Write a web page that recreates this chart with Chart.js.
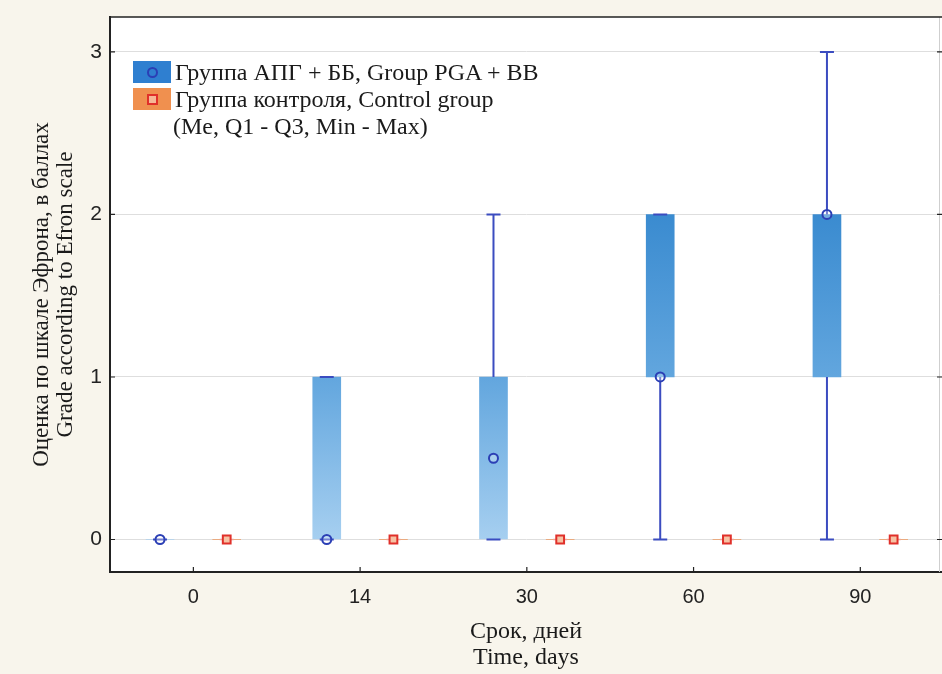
<!DOCTYPE html>
<html><head><meta charset="utf-8">
<script src="https://cdn.jsdelivr.net/npm/chart.js@4"></script>
<style>
html,body{margin:0;padding:0;background:#f8f5ec;}
#wrap{position:relative;width:942px;height:674px;}
#legend{position:absolute;left:133px;top:58px;font-family:"Liberation Serif","Times New Roman",serif;font-size:24px;color:#1a1a1a;line-height:28px;}
.row{display:flex;align-items:center;height:27px;}
.sw{width:38px;height:22px;margin-right:4px;position:relative;}
.sw i{position:absolute;left:14px;top:6px;width:7px;height:7px;border:2px solid;}
</style></head><body>
<div id="wrap"><canvas id="c" width="942" height="674"></canvas>
<div id="legend">
 <div class="row"><div class="sw" style="background:#2f7fd0"><i style="border-color:#2b3fb5;border-radius:50%"></i></div>Группа АПГ + ББ, Group PGA + BB</div>
 <div class="row"><div class="sw" style="background:#f0904f"><i style="border-color:#e0302a;background:#f6b796"></i></div>Группа контроля, Control group</div>
 <div class="row" style="padding-left:40px">(Me, Q1 - Q3, Min - Max)</div>
</div></div>
<script>
const categories = ["0","14","30","60","90"];
const yTicks = [0,1,2,3];
// Group APG + BB
const pgaMedian = [0,0,0.5,1,2];
const pgaQ1 = [0,0,0,1,1];
const pgaQ3 = [0,1,1,2,2];
const pgaMin = [0,0,0,0,0];
const pgaMax = [0,1,2,2,3];
// Control group
const ctrlMedian = [0,0,0,0,0];
const ctrlQ1 = [0,0,0,0,0];
const ctrlQ3 = [0,0,0,0,0];
const ctrlMin = [0,0,0,0,0];
const ctrlMax = [0,0,0,0,0];

const OFF = 0.2;

const framePlugin = {
  id:'frame',
  beforeDraw(chart){
    const {ctx, chartArea:a} = chart;
    ctx.save(); ctx.fillStyle='#ffffff';
    ctx.fillRect(a.left, a.top, a.right-a.left, a.bottom-a.top);
    ctx.restore();
  },
  afterDatasetDraw(chart, args){
    if(args.index!==1) return;
    const {ctx} = chart;
    const x = chart.scales.x, y = chart.scales.y;
    const drawGroup = (mins,maxs,q1,q3,off,color,w)=>{
      ctx.save(); ctx.strokeStyle=color; ctx.lineWidth=w;
      for(let i=0;i<categories.length;i++){
        const px = x.getPixelForValue(i+off);
        const pMin=y.getPixelForValue(mins[i]), pMax=y.getPixelForValue(maxs[i]);
        const pQ1=y.getPixelForValue(q1[i]), pQ3=y.getPixelForValue(q3[i]);
        ctx.beginPath();
        if(pMin>pQ1){ctx.moveTo(px,pMin);ctx.lineTo(px,pQ1);}
        if(pMax<pQ3){ctx.moveTo(px,pQ3);ctx.lineTo(px,pMax);}
        ctx.moveTo(px-7,pMin);ctx.lineTo(px+7,pMin);
        ctx.moveTo(px-7,pMax);ctx.lineTo(px+7,pMax);
        ctx.stroke();
      }
      ctx.restore();
    };
    drawGroup(pgaMin,pgaMax,pgaQ1,pgaQ3,-OFF,'#3b4cc0',2);
    drawGroup(ctrlMin,ctrlMax,ctrlQ1,ctrlQ3,OFF,'#f0a49c',1.5);
  },
  afterDraw(chart){
    const {ctx, chartArea:a} = chart;
    const x = chart.scales.x, y = chart.scales.y;
    ctx.save();
    ctx.strokeStyle='#cfcfcf'; ctx.lineWidth=1;
    ctx.beginPath(); ctx.moveTo(939.5,a.top); ctx.lineTo(939.5,a.bottom); ctx.stroke();
    ctx.strokeStyle='#222'; ctx.lineWidth=1.5;
    ctx.beginPath(); ctx.moveTo(a.left-1,a.top); ctx.lineTo(a.right,a.top); ctx.stroke();
    ctx.lineWidth=1.2; ctx.beginPath();
    for(let i=0;i<categories.length;i++){
      const px=x.getPixelForValue(i); ctx.moveTo(px,a.bottom); ctx.lineTo(px,a.bottom-5);
    }
    yTicks.forEach(v=>{const py=y.getPixelForValue(v);
      ctx.moveTo(a.left,py); ctx.lineTo(a.left+5,py);
      ctx.moveTo(a.right,py); ctx.lineTo(a.right-5,py);});
    ctx.stroke(); ctx.restore();
  }
};

new Chart(document.getElementById('c'), {
  type:'bar',
  data:{
    datasets:[
      {label:'Группа АПГ + ББ, Group PGA + BB', data:pgaQ1.map((v,i)=>({x:i-OFF,y:[v,pgaQ3[i]]})), order:3,
       backgroundColor:(c)=>{const a=c.chart.chartArea; if(!a) return '#5aa0dc';
         const y=c.chart.scales.y; const g=c.chart.ctx.createLinearGradient(0,y.getPixelForValue(2),0,y.getPixelForValue(0));
         g.addColorStop(0,'#3a8bd0'); g.addColorStop(0.5,'#62a6de'); g.addColorStop(1,'#a6cff0'); return g;},
       borderWidth:0, grouped:false, barThickness:28},
      {label:'Группа контроля, Control group', data:ctrlQ1.map((v,i)=>({x:i+OFF,y:[v,ctrlQ3[i]]})), order:2,
       backgroundColor:'#f0904f', borderWidth:0, grouped:false, barThickness:28},
      {type:'scatter', label:'Me PGA', order:1,
       data:pgaMedian.map((v,i)=>({x:i-OFF,y:v})), pointStyle:'circle', pointRadius:4.5,
       borderColor:'#2b3fb5', backgroundColor:'rgba(255,255,255,0.3)', borderWidth:2},
      {type:'scatter', label:'Me control', order:0,
       data:ctrlMedian.map((v,i)=>({x:i+OFF,y:v})), pointStyle:'rect', pointRadius:5.5,
       borderColor:'#e0302a', backgroundColor:'#f6c2a4', borderWidth:2}
    ]
  },
  options:{
    responsive:false, animation:false,
    layout:{autoPadding:false, padding:{top:17,right:0,left:0,bottom:0}},
    plugins:{legend:{display:false}, tooltip:{enabled:false}},
    scales:{
      x:{type:'linear', min:-0.5, max:4.49, offset:false,
        afterBuildTicks(s){s.ticks=categories.map((c,i)=>({value:i}));},
        grid:{display:false, drawTicks:false},
        border:{color:'#222', width:2},
        ticks:{padding:13, color:'#222', callback:(v)=>categories[v], maxRotation:0,
          font:{family:'"Liberation Sans",Arial', size:20}},
        title:{display:true, text:['Срок, дней','Time, days'], color:'#1a1a1a',
          font:{family:'"Liberation Serif","Times New Roman",serif', size:24, lineHeight:1.1}, padding:{top:0,bottom:3}},
        afterFit(s){s.height=102; s.paddingRight=0; s.paddingLeft=0;}
      },
      y:{type:'linear', min:-0.2, max:3.215,
        afterBuildTicks(s){s.ticks=yTicks.map(v=>({value:v}));},
        grid:{color:'#dedede', lineWidth:1, drawTicks:false},
        border:{color:'#222', width:2},
        ticks:{padding:8, color:'#222', font:{family:'"Liberation Sans",Arial', size:21}},
        title:{display:true, text:['Оценка по шкале Эфрона, в баллах','Grade according to Efron scale'], color:'#1a1a1a',
          font:{family:'"Liberation Serif","Times New Roman",serif', size:23, lineHeight:1.04}, padding:{top:30,bottom:0}},
        afterFit(s){s.width=110; s.paddingTop=0; s.paddingBottom=0;}
      }
    }
  },
  plugins:[framePlugin]
});
</script></body></html>
